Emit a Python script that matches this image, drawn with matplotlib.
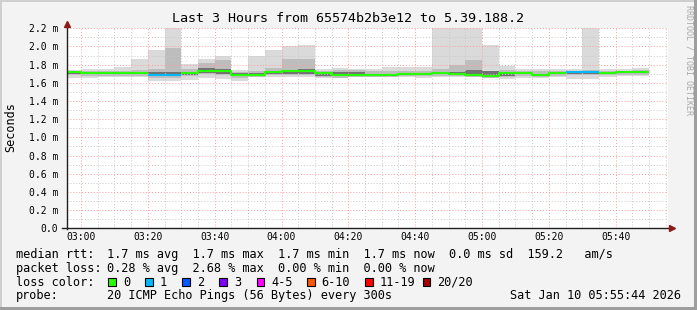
import matplotlib
matplotlib.use("Agg")
import matplotlib.pyplot as plt
import numpy as np
from matplotlib.lines import Line2D
from matplotlib.patches import Rectangle

# ---------------- data ----------------
# bins of 5 minutes, minutes relative to 03:00 (first bin 02:55)
bin_start = np.arange(-5, 170, 5)
rtt_max = [1.745, 1.755, 1.755, 1.775, 1.86, 1.96, 2.20, 1.81, 1.865, 1.90,
           1.745, 1.895, 1.96, 2.01, 2.015, 1.757, 1.765, 1.755, 1.755, 1.775,
           1.775, 1.775, 2.20, 2.20, 2.20, 2.015, 1.78, 1.755, 1.755, 1.75,
           1.755, 2.20, 1.755, 1.755, 1.765]
rtt_p90 = [1.735, 1.73, 1.73, 1.735, 1.74, 1.75, 1.985, 1.75, 1.82, 1.85,
           1.72, 1.73, 1.76, 1.86, 1.86, 1.73, 1.74, 1.74, 1.73, 1.73,
           1.73, 1.73, 1.75, 1.80, 1.85, 1.73, 1.74, 1.73, 1.73, 1.73,
           1.73, 1.74, 1.73, 1.735, 1.74]
rtt_p75 = [1.73, 1.72, 1.72, 1.72, 1.72, 1.72, 1.72, 1.72, 1.76, 1.75,
           1.71, 1.71, 1.73, 1.745, 1.75, 1.72, 1.715, 1.72, 1.70, 1.70,
           1.71, 1.71, 1.72, 1.72, 1.74, 1.73, 1.72, 1.72, 1.70, 1.72,
           1.72, 1.725, 1.72, 1.725, 1.725]
rtt_med = [1.72, 1.71, 1.71, 1.71, 1.71, 1.69, 1.69, 1.71, 1.735, 1.725,
           1.69, 1.69, 1.715, 1.725, 1.725, 1.71, 1.69, 1.69, 1.69, 1.69,
           1.70, 1.70, 1.71, 1.70, 1.69, 1.68, 1.71, 1.71, 1.69, 1.71,
           1.715, 1.715, 1.71, 1.715, 1.715]
rtt_p25 = [1.70, 1.695, 1.695, 1.695, 1.695, 1.67, 1.67, 1.69, 1.71, 1.70,
           1.67, 1.68, 1.70, 1.70, 1.70, 1.68, 1.67, 1.675, 1.675, 1.68,
           1.685, 1.685, 1.695, 1.685, 1.675, 1.665, 1.68, 1.695, 1.675, 1.695,
           1.70, 1.70, 1.70, 1.705, 1.705]
rtt_min = [1.65, 1.65, 1.66, 1.66, 1.66, 1.625, 1.625, 1.63, 1.65, 1.645,
           1.625, 1.66, 1.66, 1.665, 1.665, 1.655, 1.65, 1.66, 1.66, 1.665,
           1.665, 1.655, 1.665, 1.665, 1.66, 1.655, 1.645, 1.655, 1.655, 1.66,
           1.645, 1.645, 1.665, 1.67, 1.67]
loss = [0, 0, 0, 0, 0, 1, 1, 0, 0, 0,
        0, 0, 0, 0, 0, 0, 0, 0, 0, 0,
        0, 0, 0, 0, 0, 0, 0, 0, 0, 0,
        1, 1, 0, 0, 0]

tick_minutes = [0, 20, 40, 60, 80, 100, 120, 140, 160]
tick_labels = ["03:00", "03:20", "03:40", "04:00", "04:20", "04:40", "05:00", "05:20", "05:40"]
y_ticks = [0.0, 0.2, 0.4, 0.6, 0.8, 1.0, 1.2, 1.4, 1.6, 1.8, 2.0, 2.2]

loss_labels = ["0", "1", "2", "3", "4-5", "6-10", "11-19", "20/20"]
loss_colors = ["#26ff00", "#00b8ff", "#0059ff", "#7e00ff", "#ff00ff", "#ff5500", "#ff0000", "#a10000"]

title = "Last 3 Hours from 65574b2b3e12 to 5.39.188.2"
MONO = "DejaVu Sans Mono"

# ---------------- figure ----------------
W, H = 697, 310
fig = plt.figure(figsize=(W / 100, H / 100), dpi=100, facecolor="#f3f3f3")

def fx(px):
    return px / W

def fy(py):
    return 1 - py / H

x0, x1, y0, y1 = 66.7, 668.3, 228.3, 28.3
ax = fig.add_axes([fx(x0), fy(y0), fx(x1) - fx(x0), fy(y1) - fy(y0)])
ax.set_facecolor("white")
ax.set_xlim(-4.27, 175.73)
ax.set_ylim(0, 2.2)
for s in ax.spines.values():
    s.set_visible(False)

# smoke
mx = np.array(rtt_max); mn = np.array(rtt_min)
p90 = np.array(rtt_p90); p75 = np.array(rtt_p75); p25 = np.array(rtt_p25)
ax.bar(bin_start, mx - mn, bottom=mn, width=5, align="edge", color="#dadada", linewidth=0, zorder=1)
ax.bar(bin_start, p90 - p25 + 0.015, bottom=p25 - 0.015, width=5, align="edge", color="#bdbdbd", linewidth=0, zorder=1.1)
ax.bar(bin_start, p75 - p25, bottom=p25, width=5, align="edge", color="#727272", linewidth=0, zorder=1.2)

# grid
grid_kw = dict(linewidth=0.7, linestyle=(0, (1, 2)), zorder=2)
for m in np.arange(-5, 180, 5):
    if m not in tick_minutes:
        ax.axvline(m, color="#c8c8c8", **grid_kw)
for v in np.arange(0.1, 2.25, 0.2):
    ax.axhline(v, color="#c8c8c8", **grid_kw)
for m in tick_minutes:
    ax.axvline(m, color="#ff9a9a", **grid_kw)
for v in y_ticks[1:]:
    ax.axhline(v, color="#ff9a9a", **grid_kw)

# median line coloured by loss
med = np.array(rtt_med)
lossarr = np.array(loss)
xs = np.append(bin_start, bin_start[-1] + 5)
for li, col in enumerate(loss_colors):
    mask = lossarr == li
    if not mask.any():
        continue
    yv = np.where(mask, med, np.nan)
    yv = np.append(yv, yv[-1])
    ax.plot(xs, yv, drawstyle="steps-post", color=col, linewidth=1.5, zorder=3,
            solid_capstyle="butt")

# ticks
ax.set_xticks(tick_minutes)
ax.set_xticklabels(tick_labels, fontfamily=MONO, fontsize=7)
ax.set_yticks(y_ticks)
ax.set_yticklabels(["0.0"] + ["%.1f m" % v for v in y_ticks[1:]], fontfamily=MONO, fontsize=7)
ax.tick_params(axis="x", length=0, pad=3)
ax.tick_params(axis="y", length=0, pad=6)

# axes lines with arrows
axcol = "#202020"
fig.add_artist(Line2D([fx(x0), fx(x0)], [fy(y0 + 1), fy(22)], color=axcol, linewidth=1.0))
fig.add_artist(Line2D([fx(62), fx(670)], [fy(y0), fy(y0)], color=axcol, linewidth=1.0))
fig.add_artist(Line2D([fx(x0)], [fy(23.5)], marker="^", markersize=4.5, color="#8e1a1a", linestyle="none"))
fig.add_artist(Line2D([fx(671.5)], [fy(y0)], marker=">", markersize=4.5, color="#8e1a1a", linestyle="none"))

# title and labels
fig.text(fx(348), fy(19), title, ha="center", va="center", fontfamily=MONO, fontsize=9.6)
fig.text(fx(10.5), fy(127), "Seconds", rotation=90, ha="center", va="center", fontfamily=MONO, fontsize=8.5)
fig.text(fx(688.5), fy(5), "RRDTOOL / TOBI OETIKER", rotation=-90, ha="center", va="top",
         fontfamily=MONO, fontsize=6, color="#a8a8a8")

# legend lines
fs = 8.6
col2 = 107.3
fig.text(fx(16), fy(254.3), "median rtt:", va="center", fontfamily=MONO, fontsize=fs)
fig.text(fx(col2), fy(254.3), "1.7 ms avg  1.7 ms max  1.7 ms min  1.7 ms now  0.0 ms sd  159.2   am/s",
         va="center", fontfamily=MONO, fontsize=fs)
fig.text(fx(16), fy(268.3), "packet loss:", va="center", fontfamily=MONO, fontsize=fs)
fig.text(fx(col2), fy(268.3), "0.28 % avg  2.68 % max  0.00 % min  0.00 % now",
         va="center", fontfamily=MONO, fontsize=fs)
fig.text(fx(16), fy(282.3), "loss color:", va="center", fontfamily=MONO, fontsize=fs)
box_x = [108.3, 145.0, 182.3, 219.3, 256.7, 307.3, 365.0, 422.7]
lab_x = [123.3, 160.0, 197.3, 234.3, 271.7, 321.7, 379.3, 436.7]
for bx, lx, lab, col in zip(box_x, lab_x, loss_labels, loss_colors):
    fig.add_artist(Rectangle((fx(bx), fy(286)), fx(7.5), 8 / H, facecolor=col,
                             edgecolor="black", linewidth=0.8))
    fig.text(fx(lx), fy(282.3), lab, va="center", fontfamily=MONO, fontsize=fs)
fig.text(fx(16), fy(295.7), "probe:", va="center", fontfamily=MONO, fontsize=fs)
fig.text(fx(col2), fy(295.7), "20 ICMP Echo Pings (56 Bytes) every 300s",
         va="center", fontfamily=MONO, fontsize=fs)
fig.text(fx(680.5), fy(295.7), "Sat Jan 10 05:55:44 2026", ha="right",
         va="center", fontfamily=MONO, fontsize=fs)

# frame (shade)
fig.add_artist(Rectangle((0, fy(2)), 1, 2 / H, facecolor="#cfcfcf", edgecolor="none"))
fig.add_artist(Rectangle((0, 0), fx(2), 1, facecolor="#cfcfcf", edgecolor="none"))
fig.add_artist(Rectangle((0, 0), 1, 3 / H, facecolor="#9e9e9e", edgecolor="none"))
fig.add_artist(Rectangle((fx(W - 3), 0), fx(3), 1, facecolor="#9e9e9e", edgecolor="none"))

fig.savefig("out.png", dpi=100, facecolor=fig.get_facecolor())
